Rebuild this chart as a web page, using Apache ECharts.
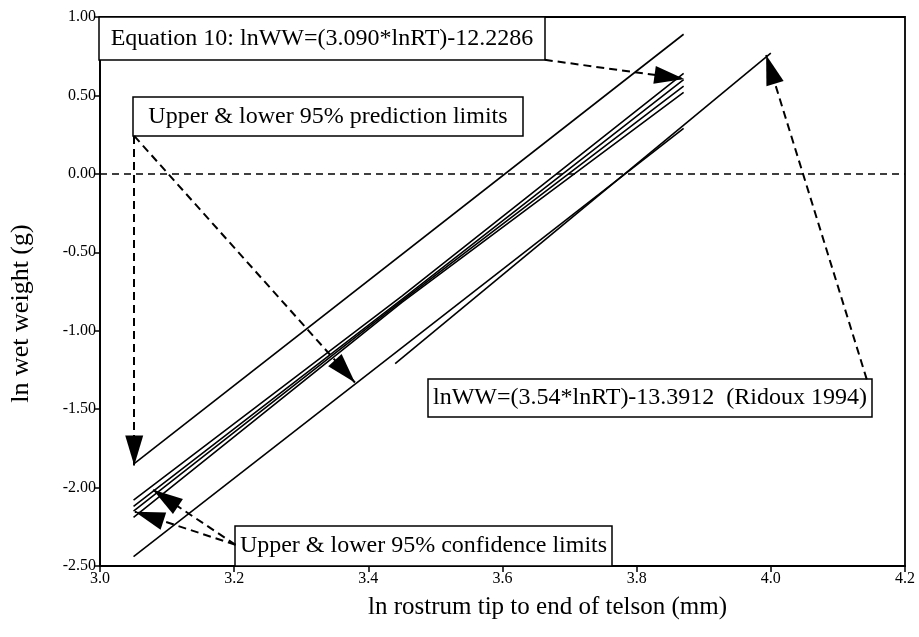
<!DOCTYPE html>
<html>
<head>
<meta charset="utf-8">
<script src="https://cdn.jsdelivr.net/npm/echarts@6/dist/echarts.min.js"></script>
<style>
html,body{margin:0;padding:0;background:#fff;}
#chart{width:919px;height:637px;}
</style>
</head>
<body>
<div id="chart"></div>
<script>
// ---- axis settings ----
const xMin = 3.0, xMax = 4.2, xStep = 0.2;
const yMin = -2.5, yMax = 1.0, yStep = 0.5;
const xAxisName = 'ln rostrum tip to end of telson (mm)';
const yAxisName = 'ln wet weight (g)';

// ---- lines ----
const upperPrediction = [[3.05, -1.85], [3.87, 0.89]];
const lowerPrediction = [[3.05, -2.44], [3.87, 0.29]];
const upperConfidence = [[3.05, -2.08], [3.45, -0.78], [3.87, 0.64]];
const regressionEq10 = [[3.05, -2.12], [3.45, -0.80], [3.87, 0.60]];
const regressionAlt = [[3.05, -2.15], [3.45, -0.81], [3.87, 0.56]];
const lowerConfidence = [[3.05, -2.19], [3.45, -0.82], [3.87, 0.52]];
const ridouxLine = [[3.44, -1.21], [4.00, 0.77]];

// ---- annotation arrows (start, tip) in data units ----
const arrowEquation = [[3.663, 0.727], [3.871, 0.605]];
const arrowPredUpper = [[3.051, 0.242], [3.051, -1.86]];
const arrowPredLower = [[3.051, 0.242], [3.38, -1.33]];
const arrowRidoux = [[4.143, -1.31], [3.993, 0.758]];
const arrowConfUpper = [[3.202, -2.365], [3.079, -2.014]];
const arrowConfLower = [[3.202, -2.365], [3.052, -2.154]];

// ---- annotation texts ----
const textEquation = 'Equation 10: lnWW=(3.090*lnRT)-12.2286';
const textPrediction = 'Upper & lower 95% prediction limits';
const textRidoux = 'lnWW=(3.54*lnRT)-13.3912  (Ridoux 1994)';
const textConfidence = 'Upper & lower 95% confidence limits';

const FONT = '"Liberation Serif", "Times New Roman", serif';

function lineSeries(name, data) {
  return {
    name: name, type: 'line', data: data, symbol: 'none', silent: true,
    lineStyle: { color: '#000', width: 1.6 }, z: 3
  };
}
function arrow(pair) {
  return [
    { coord: pair[0], symbol: 'none' },
    { coord: pair[1], symbol: 'triangle' }
  ];
}

const chart = echarts.init(document.getElementById('chart'), null, { renderer: 'canvas' });

function box(x, y, w, h, text) {
  return [
    { type: 'rect', shape: { x: x, y: y, width: w, height: h }, z: 20,
      style: { fill: '#fff', stroke: '#000', lineWidth: 1.5 } },
    { type: 'text', x: x + w / 2, y: y + h / 2, z: 21,
      style: { text: text, font: '24px ' + FONT, fill: '#000', align: 'center', verticalAlign: 'middle' } }
  ];
}

const option = {
  animation: false,
  backgroundColor: '#fff',
  grid: { left: 99, right: 14, top: 17, bottom: 71, show: true, borderColor: '#000', borderWidth: 1.8 },
  xAxis: {
    type: 'value', min: xMin, max: xMax, interval: xStep,
    name: xAxisName, nameLocation: 'middle', nameGap: 29,
    nameTextStyle: { fontFamily: FONT, fontSize: 25, color: '#000', padding: [0, 0, 0, 90] },
    axisLine: { show: true, onZero: false, lineStyle: { color: '#000', width: 1.8 } },
    axisTick: { show: true, inside: false, length: 6, lineStyle: { color: '#000', width: 1.5 } },
    axisLabel: { fontFamily: FONT, fontSize: 16, color: '#000', margin: 5,
      formatter: v => v.toFixed(1) },
    splitLine: { show: false }
  },
  yAxis: {
    type: 'value', min: yMin, max: yMax, interval: yStep,
    name: yAxisName, nameLocation: 'middle', nameGap: 66,
    nameTextStyle: { fontFamily: FONT, fontSize: 26, color: '#000', padding: [0, 44, 0, 0] },
    axisLine: { show: true, onZero: false, lineStyle: { color: '#000', width: 1.8 } },
    axisTick: { show: true, inside: false, length: 6, lineStyle: { color: '#000', width: 1.5 } },
    axisLabel: { fontFamily: FONT, fontSize: 16, color: '#000', margin: 4,
      formatter: v => v.toFixed(2) },
    splitLine: { show: false }
  },
  series: [
    lineSeries('Upper prediction', upperPrediction),
    lineSeries('Lower prediction', lowerPrediction),
    lineSeries('Upper confidence', upperConfidence),
    lineSeries('Equation 10', regressionEq10),
    lineSeries('Regression', regressionAlt),
    lineSeries('Lower confidence', lowerConfidence),
    lineSeries('Ridoux 1994', ridouxLine),
    {
      name: 'zero', type: 'line', data: [], silent: true,
      markLine: {
        silent: true, symbol: 'none', animation: false,
        label: { show: false },
        lineStyle: { color: '#000', type: [7, 5], width: 1.5 },
        data: [{ yAxis: 0 }]
      }
    },
    {
      name: 'arrows', type: 'line', data: [], silent: true, z: 25,
      markLine: {
        silent: true, animation: false, z: 25,
        symbol: ['none', 'triangle'],
        symbolSize: [18, 30],
        symbolOffset: [0, [0, 15]],
        label: { show: false },
        lineStyle: { color: '#000', type: [8, 5], width: 2 },
        itemStyle: { color: '#000' },
        data: [
          arrow(arrowEquation), arrow(arrowPredUpper), arrow(arrowPredLower),
          arrow(arrowRidoux), arrow(arrowConfUpper), arrow(arrowConfLower)
        ]
      }
    }
  ],
  graphic: [].concat(
    box(99, 17, 446, 43, textEquation),
    box(133, 97, 390, 39, textPrediction),
    box(428, 379, 444, 38, textRidoux),
    box(235, 526, 377, 40, textConfidence)
  )
};
chart.setOption(option);
</script>
</body>
</html>
